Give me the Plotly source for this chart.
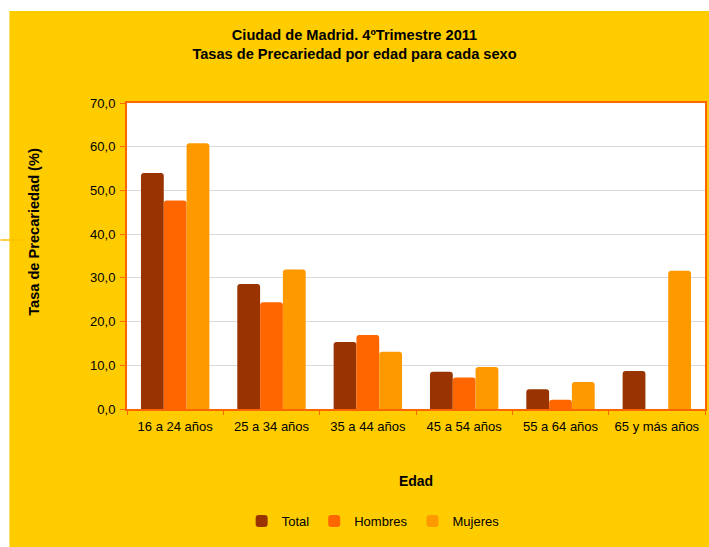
import plotly.graph_objects as go

categories = ["16 a 24 años", "25 a 34 años", "35 a 44 años", "45 a 54 años", "55 a 64 años", "65 y más años"]
total = [54.0, 28.6, 15.3, 8.5, 4.5, 8.7]
hombres = [47.7, 24.4, 16.9, 7.2, 2.1, None]
mujeres = [60.8, 31.9, 13.1, 9.6, 6.2, 31.6]

series = [("Total", total, "#993300"), ("Hombres", hombres, "#FF6600"), ("Mujeres", mujeres, "#FF9900")]

fig = go.Figure()
for name, vals, col in series:
    fig.add_trace(go.Bar(x=categories, y=vals, name=name, marker=dict(color=col, line=dict(width=0))))

FONT = "Liberation Sans, Arial, sans-serif"
W, H = 709, 547
L, R, T, B = 127, 2, 103, 138
pw, ph = W - L - R, H - T - B

def px(x):
    return (x - L) / pw

def py(y):
    return (H - B - y) / ph

fig.update_layout(
    width=W, height=H,
    margin=dict(l=L, r=R, t=T, b=B),
    paper_bgcolor="#FFCC00",
    plot_bgcolor="white",
    separators=",.",
    barmode="group",
    bargap=0.29,
    bargroupgap=0,
    barcornerradius=3,
    font=dict(family=FONT, size=13, color="black"),
    title=dict(
        text="<b>Ciudad de Madrid. 4ºTrimestre 2011<br>Tasas de Precariedad por edad para cada sexo</b>",
        x=0.5, xanchor="center",
        y=1 - 40 / H, yanchor="middle",
        font=dict(size=14.6, family=FONT),
    ),
    legend=dict(
        orientation="h", x=(374 - L) / pw, xanchor="center", y=py(521), yanchor="middle",
        font=dict(size=13), bgcolor="rgba(0,0,0,0)", itemwidth=30,
    ),
    xaxis=dict(
        showline=True, linecolor="#FF6600", linewidth=2, mirror=True,
        ticks="outside", tickson="boundaries", tickcolor="#FF6600", ticklen=4,
        ticklabelstandoff=4,
        tickfont=dict(size=13),
        title=dict(text="<b>Edad</b>", font=dict(size=14), standoff=44),
    ),
    yaxis=dict(
        range=[0, 70], dtick=10, tickformat=".1f",
        showline=True, linecolor="#FF6600", linewidth=2, mirror=True,
        ticks="outside", tickcolor="#FF6600", ticklen=5,
        ticklabelstandoff=2,
        gridcolor="#D9D9D9", gridwidth=1,
        tickfont=dict(size=13),
    ),
    annotations=[
        dict(text="<b>Tasa de Precariedad (%)</b>", xref="paper", yref="paper",
             x=px(34), y=py(231.5), xanchor="center", yanchor="middle",
             textangle=-90, showarrow=False, font=dict(size=14.6)),
    ],
    shapes=[
        dict(type="rect", xref="paper", yref="paper", x0=px(0), x1=px(W + 5), y0=py(11), y1=py(-5),
             fillcolor="white", line=dict(width=0), layer="below"),
        dict(type="rect", xref="paper", yref="paper", x0=px(-5), x1=px(9), y0=py(H + 5), y1=py(-5),
             fillcolor="white", line=dict(width=0), layer="below"),
        dict(type="line", xref="paper", yref="paper", x0=px(0), x1=px(25), y0=py(240), y1=py(240),
             line=dict(color="#FFC000", width=1.5)),
    ],
)

fig.write_html("out.html", config={"displayModeBar": False},
               post_script="document.body.style.margin='0';document.body.style.overflow='hidden';")
